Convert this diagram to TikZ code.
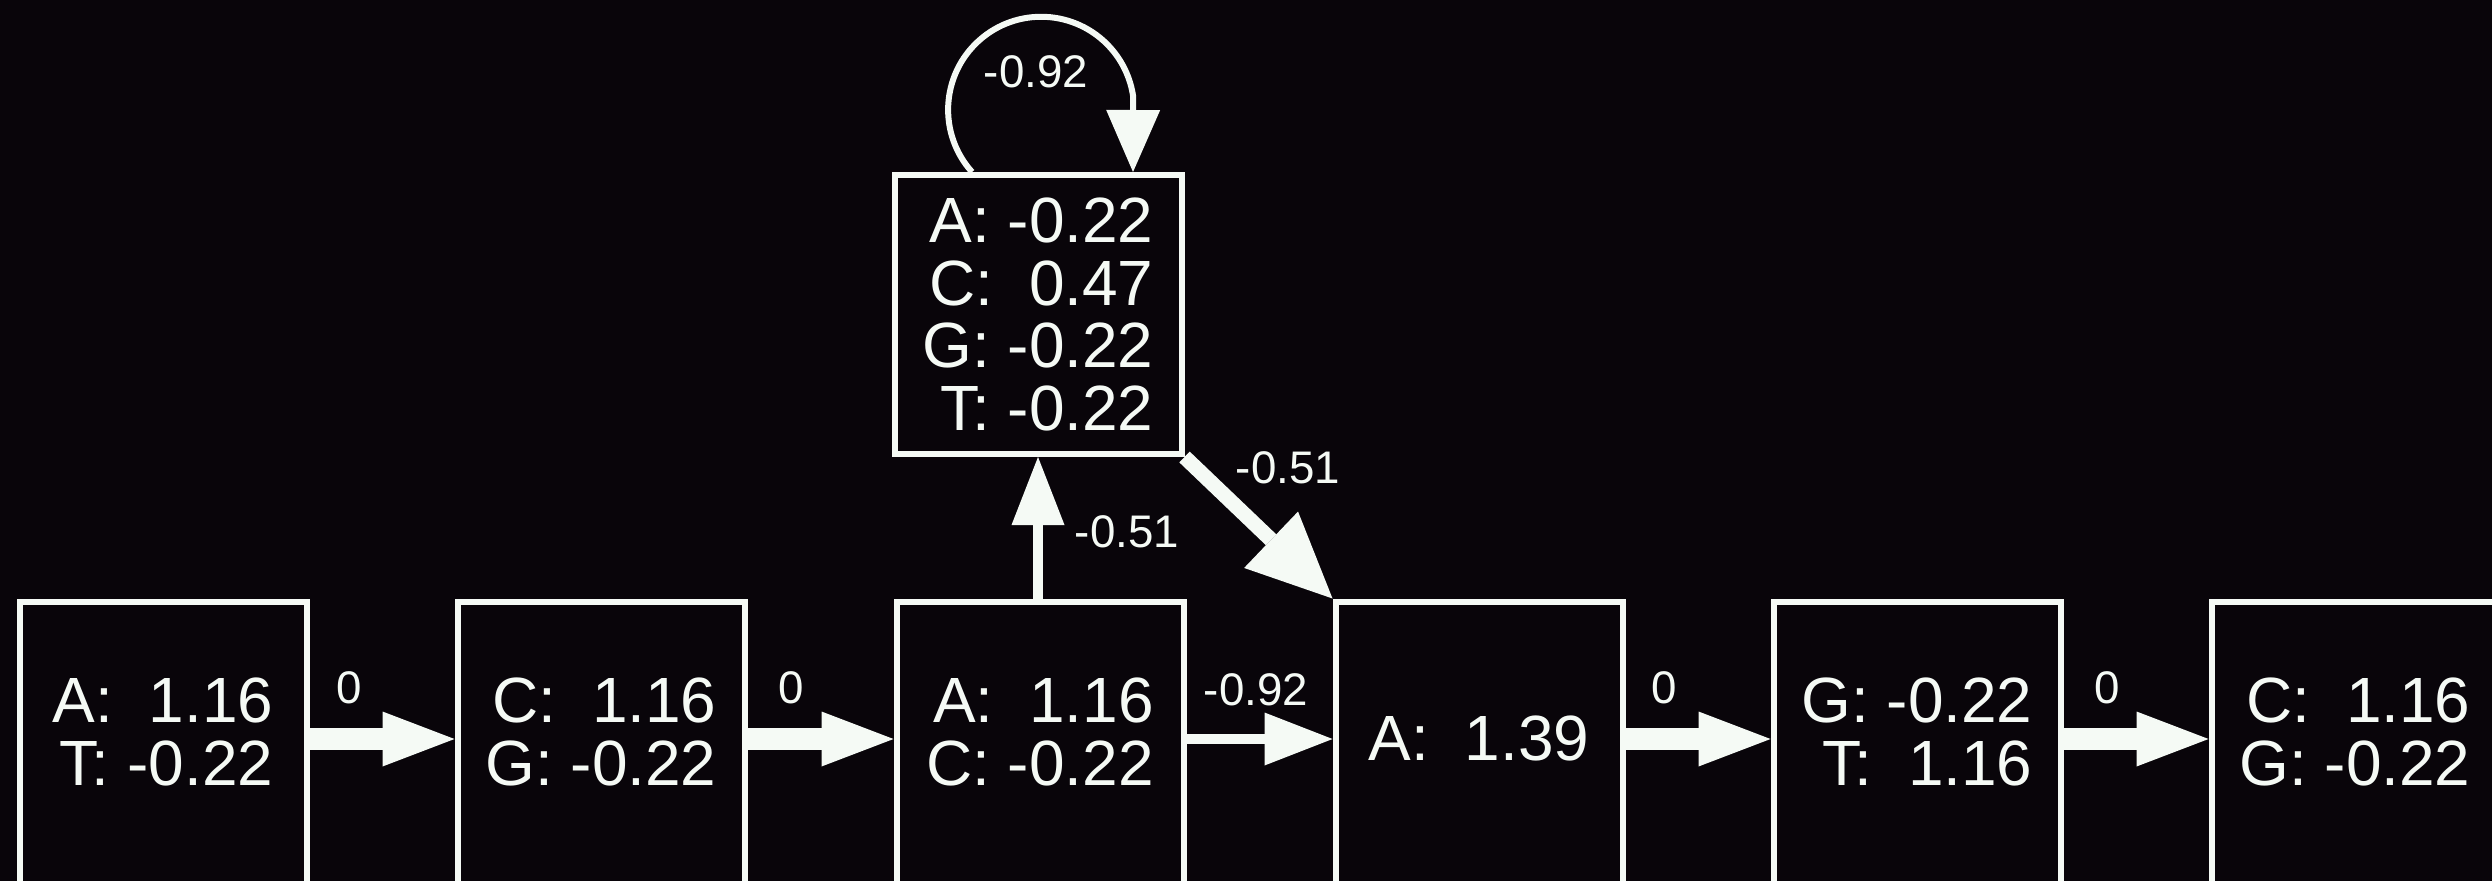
\documentclass[tikz,border=0pt]{standalone}
\usepackage{fontspec}
\setmainfont{Liberation Sans}
\usetikzlibrary{arrows.meta}
\definecolor{bg}{RGB}{9,5,10}
\definecolor{fg}{RGB}{245,250,245}
\tikzset{state/.style={draw=fg, fill=bg, line width=0.06cm,
	    minimum width=2.87cm, minimum height=2.79cm, inner sep=0pt,
	    text=fg, align=right, font=\fontsize{18.2}{17.9}\selectfont},
		rowstate/.style={state, minimum height=2.95cm, text depth=0.34cm},
		wt/.style={text=fg, inner sep=0pt, font=\fontsize{13}{13}\selectfont},
		fatarrow/.style={draw=fg, line width=0.22cm,
        -{Triangle[length=0.72cm,width=0.55cm,line width=0pt]}},
		slimarrow/.style={draw=fg, line width=0.1cm,
        -{Triangle[length=0.68cm,width=0.53cm,line width=0pt]}},
		diagarrow/.style={draw=fg, line width=0.15cm,
        -{Triangle[length=0.85cm,width=0.78cm,line width=0pt]}},
		looparrow/.style={draw=fg, line width=0.06cm,
        -{Triangle[length=0.62cm,width=0.54cm,line width=0pt]}}}

\begin{document}
\begin{tikzpicture}
    \useasboundingbox (0,0) rectangle (24.92,8.80);
    \fill[bg] (-1,-1) rectangle (26,10);
    \clip (-0.1,-0.1) rectangle (25.1,8.9);
    % states
    \node[rowstate] (b1) at (1.63,1.31) {A:\ \ 1.16\\T: -0.22};
    \node[rowstate] (b2) at (6.01,1.31) {C:\ \ 1.16\\G: -0.22};
    \node[rowstate] (b3) at (10.40,1.31) {A:\ \ 1.16\\C: -0.22};
    \node[rowstate, text depth=0.22cm] (b4) at (14.79,1.31) {A:\ \ 1.39};
    \node[rowstate] (b5) at (19.17,1.31) {G: -0.22\\T:\ \ 1.16};
    \node[rowstate] (b6) at (23.55,1.31) {C:\ \ 1.16\\G: -0.22};
    \node[state] (top) at (10.38,5.655) {A: -0.22\\C:\ \ 0.47\\G: -0.22\\T: -0.22};
    % transitions
    \draw[fatarrow] (b1.east |- 0,1.41) -- (b2.west |- 0,1.41);
    \draw[fatarrow] (b2.east |- 0,1.41) -- (b3.west |- 0,1.41);
    \draw[slimarrow] (b3.east |- 0,1.41) -- (b4.west |- 0,1.41);
    \draw[fatarrow] (b4.east |- 0,1.41) -- (b5.west |- 0,1.41);
    \draw[fatarrow] (b5.east |- 0,1.41) -- (b6.west |- 0,1.41);
    \draw[slimarrow] (b3.north -| top.south) -- (top.south);
    \draw[diagarrow] (top.south east) -- (b4.north west);
    \draw[looparrow] ([xshift=-0.66cm]top.north) arc[start angle=222, end angle=8, radius=0.93cm]
      -- ([xshift=0.95cm]top.north);
    % weights
    \node[wt] (w12) at (3.49,1.92) {0};
    \node[wt] (w23) at (7.91,1.92) {0};
    \node[wt] (w34) at (12.56,1.90) {-0.92};
    \node[wt] (w45) at (16.64,1.92) {0};
    \node[wt] (w56) at (21.07,1.92) {0};
    \node[wt] (w3t) at (11.27,3.48) {-0.51};
    \node[wt] (wt4) at (12.88,4.12) {-0.51};
    \node[wt] (wtt) at (10.36,8.08) {-0.92};
  \end{tikzpicture}
\end{document}
